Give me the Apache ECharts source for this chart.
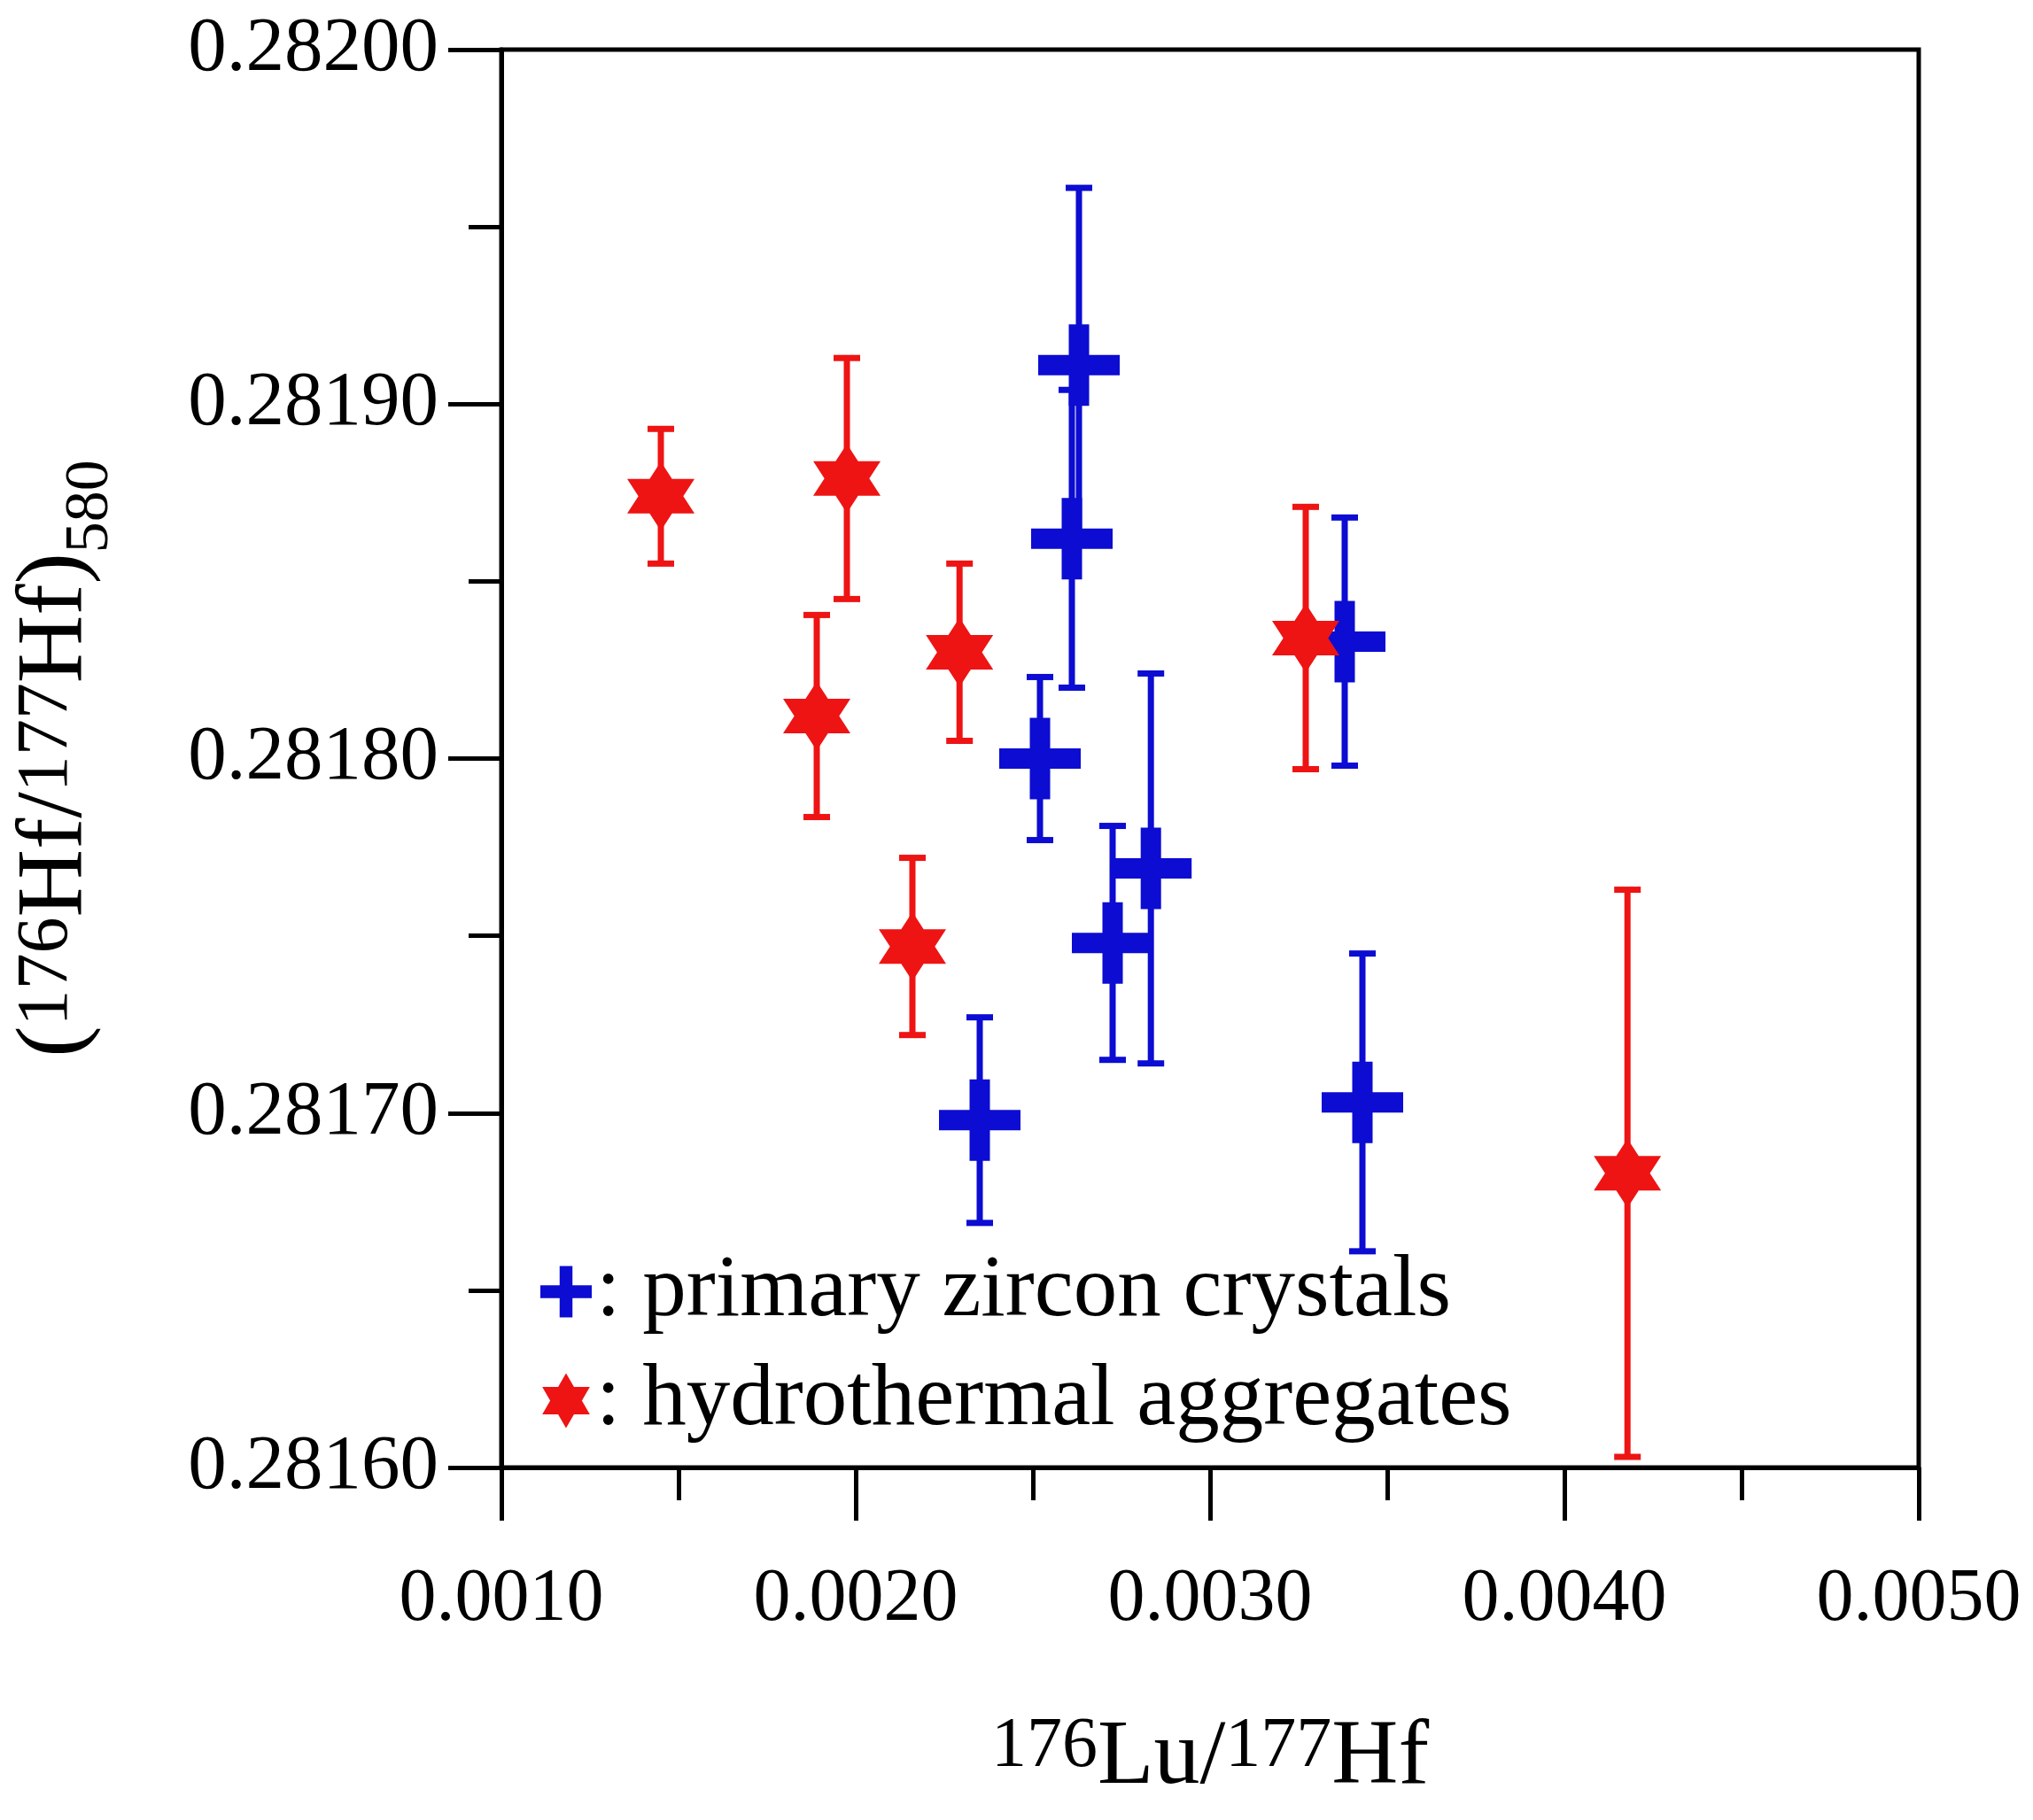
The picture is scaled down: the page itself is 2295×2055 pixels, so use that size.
<!DOCTYPE html>
<html lang="en">
<head>
    <meta charset="UTF-8">
    <title>Lu-Hf zircon</title>
    <script src="https://cdn.jsdelivr.net/npm/echarts@6/dist/echarts.min.js"></script>
    <style>
        html, body { margin: 0; padding: 0; background: #fff; }
        #main { width: 2295px; height: 2055px; }
    </style>
</head>
<body>
    <div id="main"></div>
    <script type="text/javascript">
        // primary zircon crystals: 176Lu/177Hf, (176Hf/177Hf)580, error (+/-)
        const primaryX   = [0.00263, 0.00261, 0.00252, 0.00338, 0.002725, 0.002833, 0.00235, 0.00343];
        const primaryY   = [0.281911, 0.281862, 0.281800, 0.281833, 0.281748, 0.281769, 0.281698, 0.281703];
        const primaryErr = [0.000050, 0.000042, 0.000023, 0.000035, 0.000033, 0.000055, 0.000029, 0.000042];

        // hydrothermal aggregates
        const hydroX   = [0.00145, 0.001975, 0.00189, 0.002293, 0.00216, 0.004178, 0.00327];
        const hydroY   = [0.281874, 0.281879, 0.281812, 0.281830, 0.281747, 0.281683, 0.281834];
        const hydroErr = [0.000019, 0.000034, 0.0000285, 0.000025, 0.000025, 0.000080, 0.000037];

        const xTicks = [0.001, 0.005, 0.001];     // min, max, interval
        const yTicks = [0.2816, 0.2820, 0.0001];

        const blue = '#0c0cd2';
        const red = '#ee1414';
        const font = 'Liberation Serif';

        const crossPath = 'path://M-1,-0.25 L-0.25,-0.25 L-0.25,-1 L0.25,-1 L0.25,-0.25 L1,-0.25 L1,0.25 L0.25,0.25 L0.25,1 L-0.25,1 L-0.25,0.25 L-1,0.25 Z';
        const starPath = 'path://M0,-1 L0.2887,-0.5 L0.866,-0.5 L0.5774,0 L0.866,0.5 L0.2887,0.5 L0,1 L-0.2887,0.5 L-0.866,0.5 L-0.5774,0 L-0.866,-0.5 L-0.2887,-0.5 Z';

        let zip = (xs, ys, es) => xs.map((x, i) => es ? [x, ys[i], es[i]] : [x, ys[i]]);

        // vertical error bar with caps
        let errorBar = (color) => (params, api) => {
            let x = api.value(0), y = api.value(1), e = api.value(2);
            let top = api.coord([x, y + e]);
            let bot = api.coord([x, y - e]);
            let half = 15;
            let st = { stroke: color, lineWidth: 7 };
            return {
                type: 'group',
                children: [
                    { type: 'line', shape: { x1: top[0], y1: top[1], x2: bot[0], y2: bot[1] }, style: st },
                    { type: 'line', shape: { x1: top[0] - half, y1: top[1], x2: top[0] + half, y2: top[1] }, style: st },
                    { type: 'line', shape: { x1: bot[0] - half, y1: bot[1], x2: bot[0] + half, y2: bot[1] }, style: st },
                ],
            };
        };

        let myChart = echarts.init(document.getElementById('main'));

        let tickLine = { color: '#000', width: 5 };

        let option = {
            animation: false,
            backgroundColor: '#fff',
            textStyle: { fontFamily: font, color: '#000' },
            grid: {
                left: 566, right: 129, top: 56, bottom: 398,
                show: true, borderColor: '#000', borderWidth: 5,
            },
            legend: {
                orient: 'vertical',
                left: 605,
                top: 1404,
                itemWidth: 58,
                itemHeight: 62,
                itemGap: 24,
                formatter: ': {name}',
                textStyle: { fontFamily: font, fontSize: 99, lineHeight: 96, color: '#000' },
                data: [
                    { name: 'primary zircon crystals', icon: crossPath },
                    { name: 'hydrothermal aggregates', icon: starPath },
                ],
            },
            xAxis: {
                type: 'value',
                min: xTicks[0], max: xTicks[1], interval: xTicks[2],
                splitLine: { show: false },
                axisLine: { lineStyle: tickLine },
                axisTick: { length: 60, lineStyle: tickLine },
                minorTick: { show: true, splitNumber: 2, length: 37, lineStyle: tickLine },
                axisLabel: {
                    fontFamily: font, fontSize: 84, color: '#000', margin: 108,
                    formatter: (v) => v.toFixed(4),
                },
                name: '{sup|176}{m|Lu/}{sup|177}{m|Hf}',
                nameLocation: 'middle',
                nameGap: 277,
                nameTextStyle: {
                    rich: {
                        m: { fontFamily: font, fontSize: 104, lineHeight: 104, verticalAlign: 'bottom', color: '#000' },
                        sup: { fontFamily: font, fontSize: 80, lineHeight: 80, verticalAlign: 'bottom', padding: [0, 0, 25, 0], color: '#000' },
                    },
                },
            },
            yAxis: {
                type: 'value',
                min: yTicks[0], max: yTicks[1], interval: yTicks[2],
                splitLine: { show: false },
                axisLine: { lineStyle: tickLine },
                axisTick: { length: 60, lineStyle: tickLine },
                minorTick: { show: true, splitNumber: 2, length: 37, lineStyle: tickLine },
                axisLabel: {
                    fontFamily: font, fontSize: 87, color: '#000', margin: 71,
                    formatter: (v) => v.toFixed(5),
                },
                name: '{m|(}{sup|176}{m|Hf/}{sup|177}{m|Hf)}{sub|580}',
                nameLocation: 'middle',
                nameGap: 428,
                nameTextStyle: {
                    rich: {
                        m: { fontFamily: font, fontSize: 106, lineHeight: 106, verticalAlign: 'bottom', padding: [0, 0, 22, 0], color: '#000' },
                        sup: { fontFamily: font, fontSize: 82, lineHeight: 82, verticalAlign: 'bottom', padding: [0, 0, 44, 0], color: '#000' },
                        sub: { fontFamily: font, fontSize: 70, lineHeight: 70, verticalAlign: 'bottom', color: '#000' },
                    },
                },
            },
            series: [
                {
                    name: 'primary err',
                    type: 'custom',
                    renderItem: errorBar(blue),
                    data: zip(primaryX, primaryY, primaryErr),
                    z: 2,
                },
                {
                    name: 'hydro err',
                    type: 'custom',
                    renderItem: errorBar(red),
                    data: zip(hydroX, hydroY, hydroErr),
                    z: 2,
                },
                {
                    name: 'primary zircon crystals',
                    type: 'scatter',
                    symbol: crossPath,
                    symbolSize: [92, 92],
                    itemStyle: { color: blue, opacity: 1 },
                    data: zip(primaryX, primaryY),
                    z: 3,
                },
                {
                    name: 'hydrothermal aggregates',
                    type: 'scatter',
                    symbol: starPath,
                    symbolSize: [76, 78],
                    itemStyle: { color: red, opacity: 1 },
                    data: zip(hydroX, hydroY),
                    z: 4,
                },
            ],
        };

        myChart.setOption(option);
    </script>
</body>
</html>
